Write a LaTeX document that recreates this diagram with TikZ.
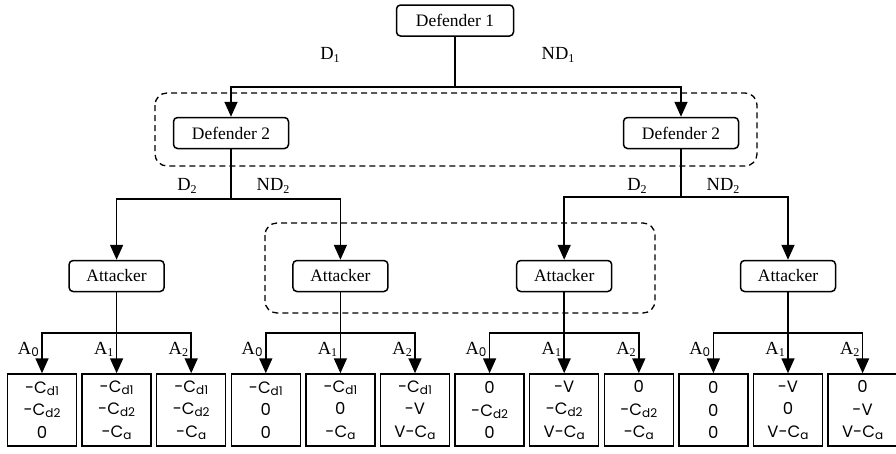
\documentclass[tikz,border=0pt]{standalone}
\usepackage{fontspec}
\setmainfont{Liberation Serif}
\newfontfamily\gothic{Poppins}
\usetikzlibrary{arrows.meta,calc}
\newcommand\ssub[1]{\raisebox{-2.5pt}{\fontsize{12}{12}\selectfont #1}}
\newcommand\gsub[1]{\raisebox{-2.5pt}{\gothic\fontsize{12}{12}\selectfont #1}}
\newcommand\Cs[1]{C\raisebox{-2pt}{\fontsize{12}{12}\selectfont #1}}
\tikzset{
  player/.style={draw, line width=1.5pt, rounded corners=4pt, minimum height=31pt, inner sep=0pt, font=\fontsize{17.5}{17.5}\selectfont},
  leaf/.style={draw, line width=1.5pt, minimum width=69pt, minimum height=72pt, inner sep=0pt, align=center, font=\gothic\fontsize{16.5}{22.5}\selectfont},
  conn/.style={line width=1.7pt},
  arr/.style={line width=1.7pt, -{Triangle[length=15pt,width=13pt]}},
  infoset/.style={line width=1.3pt, dash pattern=on 6pt off 4pt, rounded corners=12pt},
  lab/.style={font=\fontsize{18.5}{18.5}\selectfont, inner sep=0pt}
}
\begin{document}
\begin{tikzpicture}[x=1pt,y=-1pt]
\useasboundingbox (0,0) rectangle (896,453);
% information sets
\draw[infoset] (155,93) rectangle (757,166);
\draw[infoset] (265,223) rectangle (655,313);
% leaves
\foreach \i/\t in {
  0/{-\Cs{d1}\\-\Cs{d2}\\0},
  1/{-\Cs{d1}\\-\Cs{d2}\\-\Cs{a}},
  2/{-\Cs{d1}\\-\Cs{d2}\\-\Cs{a}},
  3/{-\Cs{d1}\\0\\0},
  4/{-\Cs{d1}\\0\\-\Cs{a}},
  5/{-\Cs{d1}\\-V\\V-\Cs{a}},
  6/{0\\-\Cs{d2}\\0},
  7/{-V\\-\Cs{d2}\\V-\Cs{a}},
  8/{0\\-\Cs{d2}\\-\Cs{a}},
  9/{0\\0\\0},
  10/{-V\\0\\V-\Cs{a}},
  11/{0\\-V\\V-\Cs{a}}}{
  \node[leaf] (l\i) at ({42+74.6*\i},410) {\t};
}
% players
\node[player, minimum width=117pt] (d1) at (455,20.5) {Defender 1};
\node[player, minimum width=115pt] (d2l) at (231,133) {Defender 2};
\node[player, minimum width=115pt] (d2r) at (681,133) {Defender 2};
\foreach \g/\b in {0/1,1/4,2/7,3/10}{
  \node[player, minimum width=95pt] (att\g) at (l\b |- 0,276) {Attacker};
  \coordinate (ja\g) at (l\b |- 0,333);
}
% junctions
\coordinate (j1) at (455,87);
\coordinate (j2) at (231,199);
\coordinate (j3) at (681,197);
% connectors
\draw[conn] (d1) -- (j1);
\draw[arr] (j1) -| (d2l.north);
\draw[arr] (j1) -| (d2r.north);
\draw[conn] (d2l) -- (j2);
\draw[arr] (j2) -| (att0.north);
\draw[arr] (j2) -| (att1.north);
\draw[conn] (d2r) -- (j3);
\draw[arr] (j3) -| (att2.north);
\draw[arr] (j3) -| (att3.north);
\foreach \g/\a/\b/\c in {0/0/1/2,1/3/4/5,2/6/7/8,3/9/10/11}{
  \draw[conn] (att\g) -- (ja\g);
  \draw[arr] (ja\g) -| (l\a.north);
  \draw[arr] (ja\g) -- (l\b.north);
  \draw[arr] (ja\g) -| (l\c.north);
  \node[lab, anchor=base east] (la\a) at ($(l\a.north)+(-3,-19)$) {A\gsub{0}};
}
% labels
\node[lab] (ld1) at (330,55) {D\ssub{1}};
\node[lab] (lnd1) at (558,55) {ND\ssub{1}};
\node[lab] (ld2l) at (187,186) {D\ssub{2}};
\node[lab] (lnd2l) at (273,186) {ND\ssub{2}};
\node[lab] (ld2r) at (637,186) {D\ssub{2}};
\node[lab] (lnd2r) at (723,186) {ND\ssub{2}};
\foreach \k/\s in {1/1,2/2,4/1,5/2,7/1,8/2,10/1,11/2}{
  \node[lab, anchor=base east] (la\k) at ($(l\k.north)+(-3,-19)$) {A\ssub{\s}};
}
\end{tikzpicture}
\end{document}
